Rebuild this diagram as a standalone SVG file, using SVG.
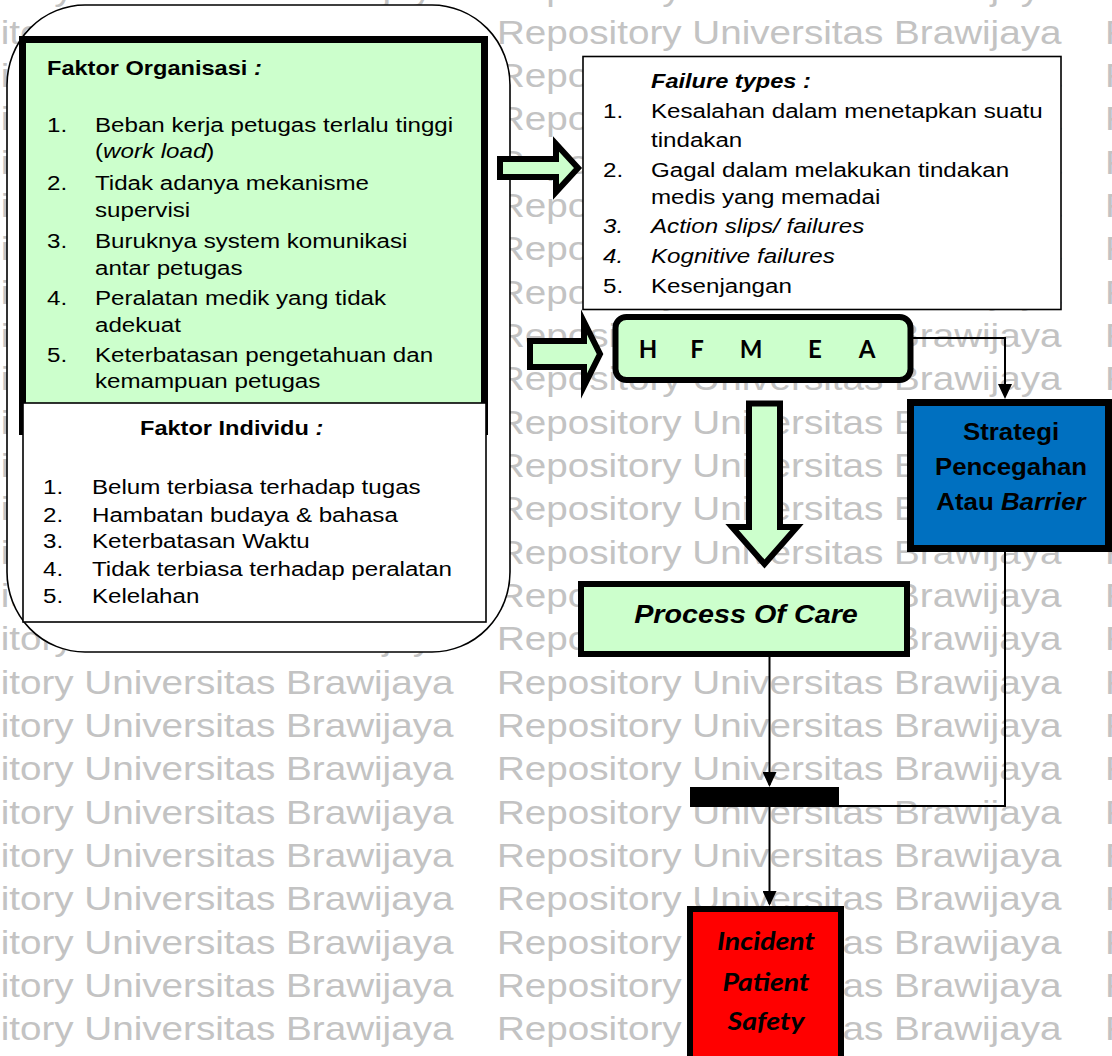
<svg xmlns="http://www.w3.org/2000/svg" xmlns:xlink="http://www.w3.org/1999/xlink" width="1112" height="1056" viewBox="0 0 1112 1056">
  <style>
    .t { font-family: "Liberation Sans", Arial, sans-serif; font-size: 21px; fill: #000; }
    .h { font-weight: bold; font-size: 20.5px; }
    .i { font-style: italic; }
    .b { font-weight: bold; }
    .big { font-size: 23.5px; }
    .poc { font-size: 25px; }
    .cal { font-family: Lato, "Open Sans", "Liberation Sans", sans-serif; font-weight: bold; fill: #000; }
    .wm { font-family: "Liberation Sans", Arial, sans-serif; font-size: 33.6px; fill: #c3c3c3; }
    .box { stroke: #000; }
    .line { fill: none; stroke: #000; stroke-width: 2; }
    .block { fill: #CCFFCC; stroke: #000; stroke-width: 6; stroke-linejoin: miter; stroke-miterlimit: 10; }
  </style>
  <defs>
    <marker id="ah" viewBox="0 0 15 14" refX="13" refY="7" markerWidth="15" markerHeight="14" markerUnits="userSpaceOnUse" orient="auto">
      <path d="M0,0 L15,7 L0,14 z" fill="#000"/>
    </marker>
    <g id="wmrow">
      <text class="wm" x="-96.52" y="0">Repository Universitas Brawijaya</text>
      <text class="wm" x="432.17" y="0">Repository Universitas Brawijaya</text>
      <text class="wm" x="960.87" y="0">Repository Universitas Brawijaya</text>
    </g>
  </defs>

  <rect width="1112" height="1056" fill="#fff"/>

  <!-- background watermark rows -->
  <g id="watermark" transform="scale(1.15 1)">
    <use xlink:href="#wmrow" y="0.4"/>
    <use xlink:href="#wmrow" y="43.7"/>
    <use xlink:href="#wmrow" y="87.1"/>
    <use xlink:href="#wmrow" y="130.4"/>
    <use xlink:href="#wmrow" y="173.7"/>
    <use xlink:href="#wmrow" y="217.1"/>
    <use xlink:href="#wmrow" y="260.4"/>
    <use xlink:href="#wmrow" y="303.7"/>
    <use xlink:href="#wmrow" y="347.0"/>
    <use xlink:href="#wmrow" y="390.4"/>
    <use xlink:href="#wmrow" y="433.7"/>
    <use xlink:href="#wmrow" y="477.0"/>
    <use xlink:href="#wmrow" y="520.4"/>
    <use xlink:href="#wmrow" y="563.7"/>
    <use xlink:href="#wmrow" y="607.0"/>
    <use xlink:href="#wmrow" y="650.4"/>
    <use xlink:href="#wmrow" y="693.7"/>
    <use xlink:href="#wmrow" y="737.0"/>
    <use xlink:href="#wmrow" y="780.3"/>
    <use xlink:href="#wmrow" y="823.7"/>
    <use xlink:href="#wmrow" y="867.0"/>
    <use xlink:href="#wmrow" y="910.3"/>
    <use xlink:href="#wmrow" y="953.7"/>
    <use xlink:href="#wmrow" y="997.0"/>
    <use xlink:href="#wmrow" y="1040.3"/>
  </g>

  <!-- outer frame around the two factor lists -->
  <g id="factors-frame">
    <rect x="7" y="5" width="503" height="647" rx="78" ry="80" fill="#fff" stroke="#000" stroke-width="1.6"/>
  </g>

  <!-- organisational factors -->
  <g id="faktor-organisasi">
    <rect class="box" x="22.5" y="39.5" width="462" height="392" fill="#CCFFCC" stroke-width="7"/>
    <g transform="scale(1.15 1)">
      <text class="t h" x="40.87" y="75">Faktor Organisasi <tspan class="i">:</tspan></text>
      <text class="t" x="40.87" y="132">1.</text>
      <text class="t" x="82.61" y="132">Beban kerja petugas terlalu tinggi</text>
      <text class="t" x="82.61" y="158">(<tspan class="i">work load</tspan>)</text>
      <text class="t" x="40.87" y="190">2.</text>
      <text class="t" x="82.61" y="190">Tidak adanya mekanisme</text>
      <text class="t" x="82.61" y="217">supervisi</text>
      <text class="t" x="40.87" y="248">3.</text>
      <text class="t" x="82.61" y="248">Buruknya system komunikasi</text>
      <text class="t" x="82.61" y="275">antar petugas</text>
      <text class="t" x="40.87" y="305">4.</text>
      <text class="t" x="82.61" y="305">Peralatan medik yang tidak</text>
      <text class="t" x="82.61" y="332">adekuat</text>
      <text class="t" x="40.87" y="362">5.</text>
      <text class="t" x="82.61" y="362">Keterbatasan pengetahuan dan</text>
      <text class="t" x="82.61" y="388">kemampuan petugas</text>
    </g>
  </g>

  <!-- individual factors -->
  <g id="faktor-individu">
    <rect class="box" x="23" y="403" width="463" height="219" fill="#fff" stroke-width="1.6"/>
    <g transform="scale(1.15 1)">
      <text class="t h" x="121.74" y="435">Faktor Individu <tspan class="i">:</tspan></text>
      <text class="t" x="37.39" y="494">1.</text>
      <text class="t" x="80" y="494">Belum terbiasa terhadap tugas</text>
      <text class="t" x="37.39" y="522">2.</text>
      <text class="t" x="80" y="522">Hambatan budaya &amp; bahasa</text>
      <text class="t" x="37.39" y="548">3.</text>
      <text class="t" x="80" y="548">Keterbatasan Waktu</text>
      <text class="t" x="37.39" y="576">4.</text>
      <text class="t" x="80" y="576">Tidak terbiasa terhadap peralatan</text>
      <text class="t" x="37.39" y="603">5.</text>
      <text class="t" x="80" y="603">Kelelahan</text>
    </g>
  </g>

  <!-- failure types -->
  <g id="failure-types">
    <rect class="box" x="583" y="56.5" width="478" height="253" fill="#fff" stroke-width="1.6"/>
    <g transform="scale(1.15 1)">
      <text class="t h i" x="566.09" y="88">Failure types :</text>
      <text class="t" x="524.35" y="118">1.</text>
      <text class="t" x="566.09" y="118">Kesalahan dalam menetapkan suatu</text>
      <text class="t" x="566.09" y="147">tindakan</text>
      <text class="t" x="524.35" y="177">2.</text>
      <text class="t" x="566.09" y="177">Gagal dalam melakukan tindakan</text>
      <text class="t" x="566.09" y="204">medis yang memadai</text>
      <text class="t i" x="524.35" y="233">3.</text>
      <text class="t i" x="566.09" y="233">Action slips/ failures</text>
      <text class="t i" x="524.35" y="263">4.</text>
      <text class="t i" x="566.09" y="263">Kognitive failures</text>
      <text class="t" x="524.35" y="293">5.</text>
      <text class="t" x="566.09" y="293">Kesenjangan</text>
    </g>
  </g>

  <!-- HFMEA -->
  <g id="hfmea">
    <rect class="box" x="615.5" y="317" width="295" height="63" rx="11" fill="#CCFFCC" stroke-width="6"/>
    <text class="cal" font-size="24" text-anchor="middle" x="648" y="358">H</text>
    <text class="cal" font-size="24" text-anchor="middle" x="697" y="358">F</text>
    <text class="cal" font-size="24" text-anchor="middle" x="751" y="358">M</text>
    <text class="cal" font-size="24" text-anchor="middle" x="815" y="358">E</text>
    <text class="cal" font-size="24" text-anchor="middle" x="867" y="358">A</text>
  </g>

  <!-- prevention strategy -->
  <g id="strategi">
    <rect class="box" x="910.5" y="402.5" width="198" height="146" fill="#0070C0" stroke-width="7"/>
    <g transform="scale(1.1 1)">
      <text class="t b big" text-anchor="middle" x="919.1" y="440">Strategi</text>
      <text class="t b big" text-anchor="middle" x="919.1" y="475">Pencegahan</text>
      <text class="t b big" text-anchor="middle" x="919.1" y="510">Atau <tspan class="i">Barrier</tspan></text>
    </g>
  </g>

  <!-- process of care -->
  <g id="process-of-care">
    <rect class="box" x="581" y="584" width="326" height="70" fill="#CCFFCC" stroke-width="6"/>
    <g transform="scale(1.15 1)">
      <text class="t b i poc" text-anchor="middle" x="648.7" y="623">Process Of Care</text>
    </g>
  </g>

  <!-- barrier bar -->
  <g id="barrier-bar">
    <rect x="690" y="787" width="149" height="20" fill="#000"/>
  </g>

  <!-- incident -->
  <g id="incident">
    <rect class="box" x="690" y="909" width="151" height="200" fill="#FF0000" stroke-width="6"/>
    <text class="cal i" font-size="24" text-anchor="middle" x="766" y="950" textLength="98" lengthAdjust="spacingAndGlyphs">Incident</text>
    <text class="cal i" font-size="24" text-anchor="middle" x="766" y="991" textLength="87" lengthAdjust="spacingAndGlyphs">Patient</text>
    <text class="cal i" font-size="24" text-anchor="middle" x="766" y="1030" textLength="77" lengthAdjust="spacingAndGlyphs">Safety</text>
  </g>

  <!-- connectors -->
  <g id="connectors">
    <path class="block" d="M500,159 H556 V144 L578,168 L556,192 V177 H500 Z"/>
    <path class="block" d="M530,341 H584 V322 L600,354 L584,386 V367 H530 Z"/>
    <path class="block" d="M749,403.5 H780 V527 H797 L764.5,564 L732,527 H749 Z"/>
    <path class="line" d="M913,338 H1005 V397" marker-end="url(#ah)"/>
    <path class="line" d="M769.5,657 V785" marker-end="url(#ah)"/>
    <path class="line" d="M769.5,807 V904" marker-end="url(#ah)"/>
    <path class="line" d="M1005,552 V806 H839"/>
  </g>
</svg>
